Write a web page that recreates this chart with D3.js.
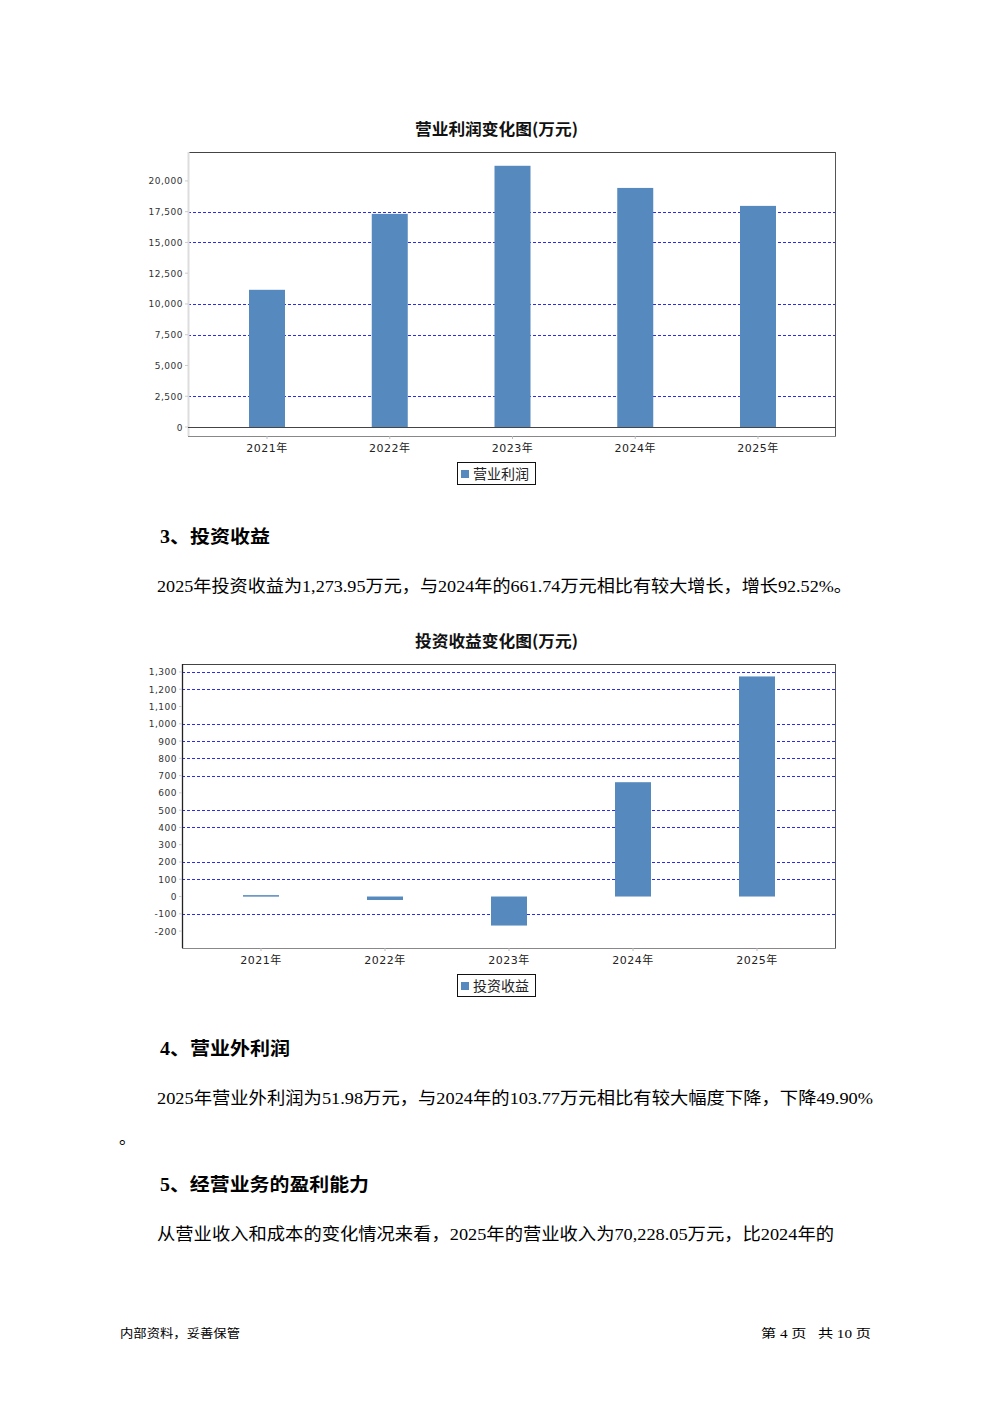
<!DOCTYPE html>
<html><head><meta charset="utf-8">
<script src="https://cdn.jsdelivr.net/npm/d3@7"></script>
<style>
html,body{margin:0;padding:0;background:#fff;}
svg{display:block;}
</style></head>
<body>
<script>
// ---------- data ----------
const years = ["2021年", "2022年", "2023年", "2024年", "2025年"];
const profitValues = [11150, 17320, 21230, 19430, 17970];
const profitTicks = [0, 2500, 5000, 7500, 10000, 12500, 15000, 17500, 20000];
const profitGridTicks = [2500, 7500, 10000, 15000, 17500];
const investValues = [8, -20, -168, 661.74, 1273.95];
const investTicks = [-200, -100, 0, 100, 200, 300, 400, 500, 600, 700, 800, 900, 1000, 1100, 1200, 1300];
const investGridTicks = [-100, 100, 200, 400, 500, 700, 800, 900, 1000, 1200, 1300];
const chartTitles = ["营业利润变化图(万元)", "投资收益变化图(万元)"];
const seriesNames = ["营业利润", "投资收益"];

const W = 992, H = 1403;
const BAR = "#5689bd";
const svg = d3.select("body").append("svg").attr("width", W).attr("height", H);

const fmt = d3.format(",");

function drawChart(cfg) {
  const g = svg.append("g");
  const { left, right, top, bottom, axisY, values, ticks, grid, dom, title, name, xr, leftAxisDark, zeroLine, legendY, titleY } = cfg;
  const y = d3.scaleLinear().domain(dom).range([bottom, top]);
  const x = d3.scalePoint().domain(years).range(xr);
  const bw = 36;

  // title
  g.append("text").attr("x", 415).attr("y", titleY)
    .attr("font-family", "'Noto Sans CJK SC', sans-serif").attr("font-weight", "bold")
    .attr("font-size", 16).attr("fill", "#111")
    .attr("textLength", 163).attr("lengthAdjust", "spacingAndGlyphs").text(title);

  // grid
  g.selectAll(".grid").data(grid).enter().append("line")
    .attr("x1", left).attr("x2", right)
    .attr("y1", d => Math.round(y(d)) + 0.5).attr("y2", d => Math.round(y(d)) + 0.5)
    .attr("stroke", "#2a2af0").attr("stroke-width", 1).attr("stroke-dasharray", "3,2");

  // bars
  g.selectAll(".bar").data(values).enter().append("rect")
    .attr("x", (d, i) => x(years[i]) - bw / 2)
    .attr("y", d => y(Math.max(0, d)))
    .attr("width", bw)
    .attr("height", d => Math.max(1.5, Math.abs(y(d) - y(0))))
    .attr("fill", BAR);

  // frame
  g.append("line").attr("x1", left).attr("x2", right).attr("y1", top + 0.5).attr("y2", top + 0.5)
    .attr("stroke", "#444").attr("stroke-width", 1.2);
  g.append("line").attr("x1", right - 0.5).attr("x2", right - 0.5).attr("y1", top).attr("y2", axisY)
    .attr("stroke", "#555").attr("stroke-width", 1);
  g.append("line").attr("x1", left + 0.5).attr("x2", left + 0.5).attr("y1", top).attr("y2", axisY)
    .attr("stroke", leftAxisDark ? "#222" : "#ddd").attr("stroke-width", leftAxisDark ? 1.3 : 2);
  if (zeroLine) {
    g.append("line").attr("x1", left).attr("x2", right).attr("y1", y(0) + 0.5).attr("y2", y(0) + 0.5)
      .attr("stroke", "#444").attr("stroke-width", 1);
  }
  // bottom axis
  g.append("line").attr("x1", left).attr("x2", right).attr("y1", axisY + 0.5).attr("y2", axisY + 0.5)
    .attr("stroke", "#888").attr("stroke-width", 1.2);
  g.selectAll(".xt").data(years).enter().append("line")
    .attr("x1", d => x(d)).attr("x2", d => x(d)).attr("y1", axisY).attr("y2", axisY + 3)
    .attr("stroke", "#bbb");
  g.selectAll(".xl").data(years).enter().append("text")
    .attr("x", d => x(d)).attr("y", axisY + 16).attr("text-anchor", "middle")
    .attr("font-family", "'DejaVu Sans', 'Noto Sans CJK SC', sans-serif").attr("font-size", 11)
    .attr("letter-spacing", 0.5).attr("fill", "#222").text(d => d);

  // y axis ticks/labels
  g.selectAll(".yt").data(ticks).enter().append("line")
    .attr("x1", left - 3).attr("x2", left).attr("y1", d => y(d)).attr("y2", d => y(d))
    .attr("stroke", "#ccc");
  g.selectAll(".yl").data(ticks).enter().append("text")
    .attr("x", left - 5).attr("y", d => y(d) + 3.5).attr("text-anchor", "end")
    .attr("font-family", "'DejaVu Sans', sans-serif").attr("font-size", 9)
    .attr("letter-spacing", 0.5).attr("fill", "#333").text(d => fmt(d).replace("−", "-"));

  // legend
  const lg = g.append("g");
  lg.append("rect").attr("x", 457.5).attr("y", legendY + 0.5).attr("width", 78).attr("height", 22)
    .attr("fill", "#fff").attr("stroke", "#111").attr("stroke-width", 1);
  lg.append("rect").attr("x", 461).attr("y", legendY + 8).attr("width", 8).attr("height", 8).attr("fill", BAR);
  lg.append("text").attr("x", 473).attr("y", legendY + 16.5)
    .attr("font-family", "'Noto Sans CJK SC', sans-serif").attr("font-size", 14)
    .attr("fill", "#222").text(name);
}

drawChart({ left: 188, right: 836, top: 152, bottom: 427, axisY: 436, values: profitValues,
  ticks: profitTicks, grid: profitGridTicks, dom: [0, 22350], title: chartTitles[0], name: seriesNames[0],
  xr: [267, 758], leftAxisDark: false, zeroLine: true, legendY: 462, titleY: 135 });

drawChart({ left: 182, right: 836, top: 664, bottom: 948, axisY: 948, values: investValues,
  ticks: investTicks, grid: investGridTicks, dom: [-298, 1346], title: chartTitles[1], name: seriesNames[1],
  xr: [261, 757], leftAxisDark: true, zeroLine: false, legendY: 974, titleY: 647 });

// ---------- text ----------
const FONT = "'Liberation Serif', 'Noto Sans CJK SC', serif";
function txt(x, y, s, size, bold, len) {
  const t = svg.append("text").attr("x", x).attr("y", y).attr("font-family", FONT)
    .attr("font-size", size).attr("fill", "#000").style("white-space", "pre").text(s);
  if (bold) t.attr("font-weight", "bold");
  if (len) t.attr("textLength", len).attr("lengthAdjust", "spacingAndGlyphs");
  return t;
}
txt(160, 543, "3、投资收益", 18, true, 110);
txt(157, 592, "2025年投资收益为1,273.95万元，与2024年的661.74万元相比有较大增长，增长92.52%。", 17, false, 695);
txt(160, 1055, "4、营业外利润", 18, true, 130);
txt(157, 1104, "2025年营业外利润为51.98万元，与2024年的103.77万元相比有较大幅度下降，下降49.90%", 17, false, 716);
txt(119, 1144, "。", 17, false);
txt(160, 1191, "5、经营业务的盈利能力", 18, true, 209);
txt(157, 1240, "从营业收入和成本的变化情况来看，2025年的营业收入为70,228.05万元，比2024年的", 17, false, 677);
txt(120, 1338, "内部资料，妥善保管", 12, false, 120);
txt(761, 1338, "第 4 页   共 10 页", 12, false, 110);
</script>
</body></html>
